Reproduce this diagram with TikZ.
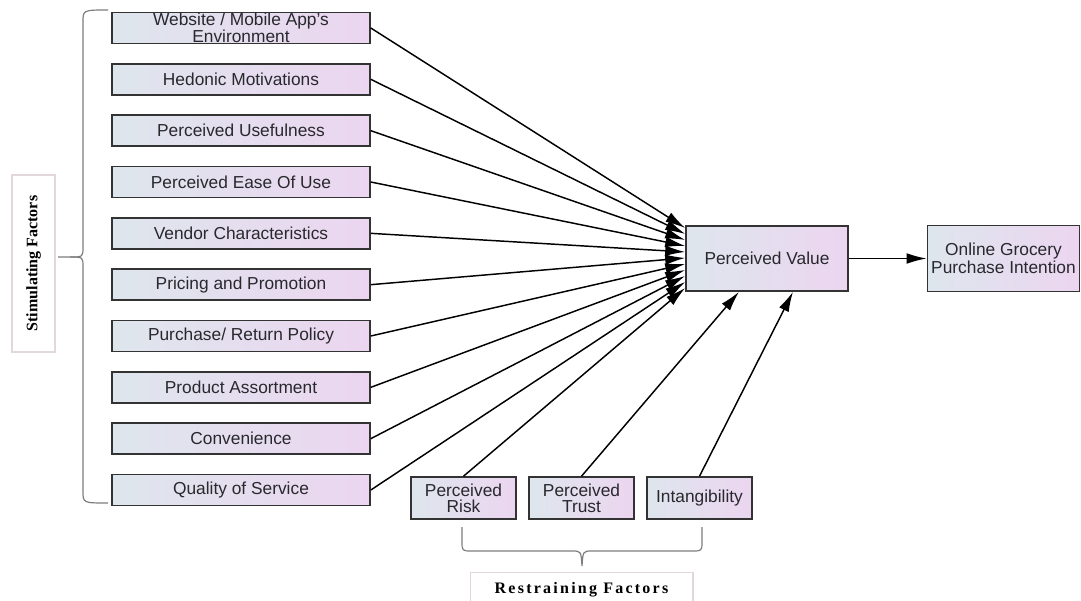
\documentclass[tikz,border=0pt]{standalone}
\usepackage{fontspec}
\setmainfont{Liberation Sans}
\newfontfamily\headfont{Liberation Serif}
\newfontfamily\spacedfont[LetterSpace=14]{Liberation Serif}
\usetikzlibrary{positioning,arrows.meta}
\definecolor{boxleft}{RGB}{222,230,237}
\definecolor{boxright}{RGB}{236,213,240}
\definecolor{bracegray}{RGB}{125,125,125}
\definecolor{labelline}{RGB}{226,216,220}
\definecolor{inktext}{RGB}{40,40,45}

\begin{document}
\begin{tikzpicture}[
  x=0.75pt, y=-0.75pt, on grid,
  factor/.style={draw=black!80, line width=1.2pt, left color=boxleft, right color=boxright,
    text=inktext, align=center, font=\fontsize{13}{12}\selectfont, inner xsep=2pt, inner ysep=0pt},
  stimbox/.style={factor, minimum width=193.5pt, minimum height=23.25pt},
  restbox/.style={factor, minimum width=78.75pt, minimum height=31.5pt},
  groupbox/.style={draw=labelline, line width=1pt, fill=white, font=\bfseries\fontsize{12}{14}\selectfont},
  conn/.style={draw, -{Latex[length=15pt, width=8pt]}, line width=1.1pt},
  bracket/.style={draw=bracegray, line width=0.9pt}
]
  \useasboundingbox (0,0) rectangle (1081,600);

  \node[stimbox] (f1) at (241,28) {Website / Mobile App's\\Environment};
  \node[stimbox, below=38.5pt of f1] (f2) {Hedonic Motivations};
  \node[stimbox, below=38.5pt of f2] (f3) {Perceived Usefulness};
  \node[stimbox, below=38.5pt of f3] (f4) {Perceived Ease Of Use};
  \node[stimbox, below=38.5pt of f4] (f5) {Vendor Characteristics};
  \node[stimbox, below=38.5pt of f5] (f6) {Pricing and Promotion};
  \node[stimbox, below=38.5pt of f6] (f7) {Purchase/ Return Policy};
  \node[stimbox, below=38.5pt of f7] (f8) {Product Assortment};
  \node[stimbox, below=38.5pt of f8] (f9) {Convenience};
  \node[stimbox, below=38.5pt of f9] (f10) {Quality of Service};

  \node[factor, minimum width=121.5pt, minimum height=48.75pt] (pv) at (767,258.5) {Perceived Value};
  \node[factor, minimum width=114pt, minimum height=49.5pt] (og) at (1003.5,258.5) {Online Grocery\\Purchase Intention};

  \node[restbox] (risk) at (463.5,498) {Perceived\\Risk};
  \node[restbox, right=88.5pt of risk] (trust) {Perceived\\Trust};
  \node[restbox, right=88.5pt of trust] (intang) {Intangibility};

  \node[groupbox, rotate=90, minimum width=132.75pt, minimum height=32.25pt] (stim) at (33.5,263.5) {\headfont Stimulating Factors};
  \node[groupbox, minimum width=167pt, minimum height=25.5pt, anchor=north] (rest) at (581.5,572) {\spacedfont Restraining Factors};

  \foreach \i in {1,...,10}
    \draw[conn] (f\i.east) -- ([yshift={27.4pt-\i*4.5pt}]pv.west);
  \draw[conn] (risk.north) -- ([yshift=-22.1pt]pv.west);
  \draw[conn] (trust.north) -- ([xshift=-21pt]pv.south);
  \draw[conn] (intang.north) -- ([xshift=19.5pt]pv.south);
  \draw[conn] (pv.east) -- (og.west);

  \draw[bracket] (108,10) .. controls (83,10) .. (83,22) -- (83,247) .. controls (83,257) .. (70,257) -- (58,257);
  \draw[bracket] (70,257) .. controls (83,257) .. (83,267) -- (83,491) .. controls (83,503) .. (108,503);
  \draw[bracket] (462,527) -- (462,541) .. controls (462,551) .. (472,551) -- (572,551)
    .. controls (581,551) .. (582,566) .. controls (583,551) .. (592,551) -- (692,551)
    .. controls (702,551) .. (702,541) -- (702,527);
\end{tikzpicture}
\end{document}
